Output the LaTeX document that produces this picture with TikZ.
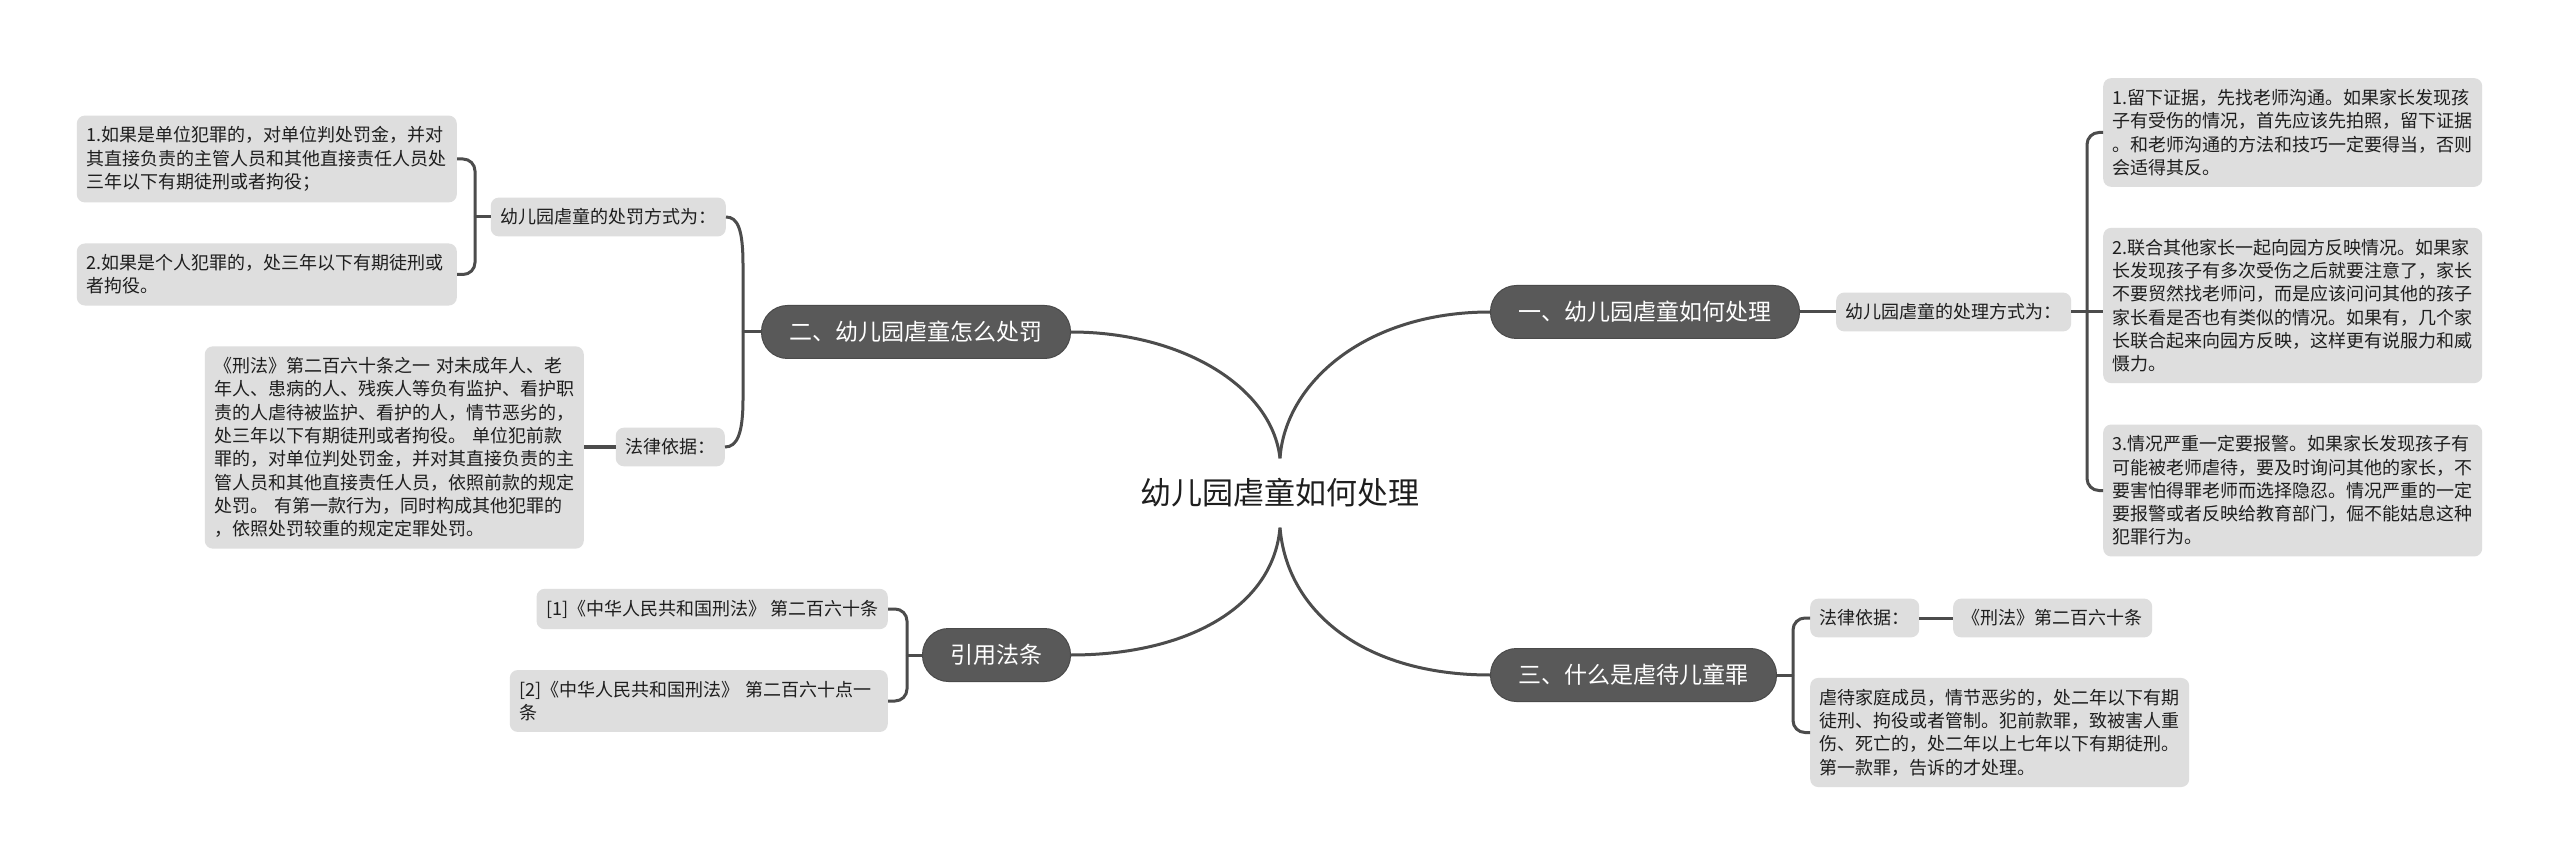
\documentclass[tikz,border=0pt]{standalone}
\usepackage{fontspec}
\setmainfont{Noto Sans CJK SC}
\definecolor{leafgray}{HTML}{DEDEDE}
\definecolor{branchgray}{HTML}{595959}
\definecolor{branchborder}{HTML}{4A4A4A}
\definecolor{linec}{HTML}{4C4C4C}
\definecolor{textc}{HTML}{1E1E1E}
\begin{document}
\begin{tikzpicture}[x=1pt,y=-1pt,
  leaf/.style={fill=leafgray, rounded corners=8pt, inner xsep=9.5pt, inner ysep=11pt,
    align=left, text=textc, font=\fontsize{18}{23.3}\selectfont},
  multi/.style={leaf, text width=#1},
  pill/.style={fill=branchgray, draw=branchborder, line width=1pt, rounded corners=26pt,
    text=white, font=\fontsize{23}{28}\selectfont, inner xsep=28pt, minimum height=53pt},
  conn/.style={draw=linec, line width=3pt},
  elbow/.style={conn, rounded corners=12pt}
]
\useasboundingbox (0,0) rectangle (2560,866);
\fill[white] (0,0) rectangle (2560,866);

% central
\node[text=textc, font=\fontsize{31}{36}\selectfont, inner xsep=4pt, inner ysep=20pt] (C) at (1280,493) {幼儿园虐童如何处理};

% branches
\node[pill, anchor=west] (B1) at (1490,312) {一、幼儿园虐童如何处理};
\node[pill, anchor=east] (B2) at (1071,332) {二、幼儿园虐童怎么处罚};
\node[pill, anchor=east] (B3) at (1071,655) {引用法条};
\node[pill, anchor=west] (B4) at (1490,675) {三、什么是虐待儿童罪};

% left top sub tree
\node[leaf, anchor=east] (S1) at (726,217) {幼儿园虐童的处罚方式为：};
\node[leaf, anchor=east] (S2) at (725,447) {法律依据：};
\node[multi=361pt, anchor=east] (L1) at (457,159) {1.如果是单位犯罪的，对单位判处罚金，并对\\其直接负责的主管人员和其他直接责任人员处\\三年以下有期徒刑或者拘役；};
\node[multi=361pt, anchor=east] (L2) at (457,274.5) {2.如果是个人犯罪的，处三年以下有期徒刑或\\者拘役。};
\node[multi=360pt, anchor=east] (L3) at (584,447.5) {《刑法》第二百六十条之一 对未成年人、老\\年人、患病的人、残疾人等负有监护、看护职\\责的人虐待被监护、看护的人，情节恶劣的，\\处三年以下有期徒刑或者拘役。 单位犯前款\\罪的，对单位判处罚金，并对其直接负责的主\\管人员和其他直接责任人员，依照前款的规定\\处罚。 有第一款行为，同时构成其他犯罪的\\，依照处罚较重的规定定罪处罚。};

% references
\node[leaf, anchor=east] (R1) at (888,609) {[1]《中华人民共和国刑法》 第二百六十条};
\node[multi=359pt, anchor=east] (R2) at (888,701) {[2]《中华人民共和国刑法》 第二百六十点一\\条};

% right top sub tree
\node[leaf, anchor=west] (S3) at (1836,312) {幼儿园虐童的处理方式为：};
\node[multi=360pt, anchor=west] (RL1) at (2103,132.5) {1.留下证据，先找老师沟通。如果家长发现孩\\子有受伤的情况，首先应该先拍照，留下证据\\。和老师沟通的方法和技巧一定要得当，否则\\会适得其反。};
\node[multi=360pt, anchor=west] (RL2) at (2103,305.5) {2.联合其他家长一起向园方反映情况。如果家\\长发现孩子有多次受伤之后就要注意了，家长\\不要贸然找老师问，而是应该问问其他的孩子\\家长看是否也有类似的情况。如果有，几个家\\长联合起来向园方反映，这样更有说服力和威\\慑力。};
\node[multi=360pt, anchor=west] (RL3) at (2103,490.5) {3.情况严重一定要报警。如果家长发现孩子有\\可能被老师虐待，要及时询问其他的家长，不\\要害怕得罪老师而选择隐忍。情况严重的一定\\要报警或者反映给教育部门，倔不能姑息这种\\犯罪行为。};

% right bottom sub tree
\node[leaf, anchor=west] (S4) at (1810,618) {法律依据：};
\node[leaf, anchor=west] (L5) at (1953,618) {《刑法》第二百六十条};
\node[multi=360pt, anchor=west] (L6) at (1810,732.5) {虐待家庭成员，情节恶劣的，处二年以下有期\\徒刑、拘役或者管制。犯前款罪，致被害人重\\伤、死亡的，处二年以上七年以下有期徒刑。\\第一款罪，告诉的才处理。};

% central connectors
\draw[conn] (C.north) .. controls +(5,-75) and +(-125,0) .. (B1.west);
\draw[conn] (C.north) .. controls +(-8,-72) and +(110,0) .. (B2.east);
\draw[conn] (C.south) .. controls +(-7,80) and +(115,0) .. (B3.east);
\draw[conn] (C.south) .. controls +(7,85) and +(-125,0) .. (B4.west);

% B2 subtree
\coordinate (jB2) at (743,332);
\draw[conn] (B2.west) -- (jB2);
\draw[conn] (jB2) -- +(0,-67) .. controls +(0,-35) and +(12,0) .. (S1.east);
\draw[conn] (jB2) -- +(0,67) .. controls +(0,35) and +(12,0) .. (S2.east);
\coordinate (jS1) at (475,217);
\draw[conn] (S1.west) -- (jS1);
\draw[elbow] (jS1) |- (L1.east);
\draw[elbow] (jS1) |- (L2.east);
\draw[conn] (S2.west) -- (L3.east |- S2.west);

% B3 subtree
\coordinate (jB3) at (907,655);
\draw[conn] (B3.west) -- (jB3);
\draw[elbow] (jB3) |- (R1.east);
\draw[elbow] (jB3) |- (R2.east);

% B1 subtree
\draw[conn] (B1.east) -- (S3.west);
\coordinate (jS3) at (2087,312);
\draw[conn] (S3.east) -- (jS3);
\draw[elbow] (jS3) |- (RL1.west);
\draw[conn] (jS3) -- (RL2.west |- jS3);
\draw[elbow] (jS3) |- (RL3.west);

% B4 subtree
\coordinate (jB4) at (1793,675);
\draw[conn] (B4.east) -- (jB4);
\draw[elbow] (jB4) |- (S4.west);
\draw[elbow] (jB4) |- (L6.west);
\draw[conn] (S4.east) -- (L5.west);
\end{tikzpicture}
\end{document}
